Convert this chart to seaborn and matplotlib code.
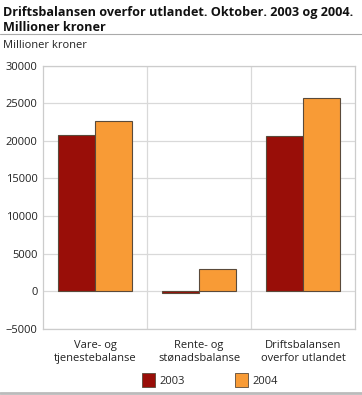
import pandas as pd
import matplotlib
matplotlib.use("Agg")
import matplotlib.pyplot as plt
import seaborn as sns
from matplotlib.patches import Patch

# data
kategorier = ["Vare- og\ntjenestebalanse", "Rente- og\nstønadsbalanse", "Driftsbalansen\noverfor utlandet"]
aar = ["2003", "2004"]
verdier_2003 = [20800, -200, 20600]
verdier_2004 = [22600, 3000, 25700]
farger = ["#990e08", "#f89b36"]

df = pd.DataFrame({
    "kategori": kategorier * 2,
    "aar": [aar[0]] * 3 + [aar[1]] * 3,
    "verdi": verdier_2003 + verdier_2004,
})

sns.set_style("white")
plt.rcParams["font.family"] = ["Open Sans", "DejaVu Sans"]

fig = plt.figure(figsize=(3.62, 3.95), dpi=100)
ax = fig.add_axes([0.119, 0.167, 0.862, 0.667])

sns.barplot(data=df, x="kategori", y="verdi", hue="aar", palette=farger, saturation=1,
            width=0.71, edgecolor="#5a4a3a", linewidth=0.8, ax=ax, legend=False,
            zorder=3)

ax.set_ylim(-5000, 30000)
ax.set_yticks(range(-5000, 30001, 5000))
ax.set_xlim(-0.5, 2.5)
ax.yaxis.grid(True, color="#d9d9d9", linewidth=0.9, zorder=0)
for x in [0.5, 1.5]:
    ax.axvline(x, color="#d9d9d9", linewidth=0.9, zorder=0)
for s in ax.spines.values():
    s.set_color("#cccccc")
    s.set_linewidth(0.9)
ax.tick_params(axis="both", length=0, labelsize=8, colors="#222222", pad=4)
ax.tick_params(axis="x", pad=8)
ax.set_xlabel("")
ax.set_ylabel("")

fig.text(0.008, 0.985, "Driftsbalansen overfor utlandet. Oktober. 2003 og 2004.\nMillioner kroner",
         fontsize=9.1, fontweight="bold", va="top", ha="left", linespacing=1.2, color="#111111")
fig.add_artist(plt.Line2D([0, 1], [0.913, 0.913], color="#aaaaaa", linewidth=0.8))
fig.text(0.008, 0.884, "Millioner kroner", fontsize=8, va="center", ha="left", color="#222222")
fig.add_artist(plt.Line2D([0, 1], [0.006, 0.006], color="#bbbbbb", linewidth=2))

handles = [Patch(facecolor=farger[i], edgecolor="#5a4a3a", linewidth=0.6, label=aar[i]) for i in range(2)]
fig.legend(handles=handles, loc="center", bbox_to_anchor=(0.58, 0.038), ncol=2, frameon=False,
           fontsize=8, handlelength=1.2, handleheight=1.6, columnspacing=4.5, handletextpad=0.4)

fig.savefig("out.png", dpi=100)
